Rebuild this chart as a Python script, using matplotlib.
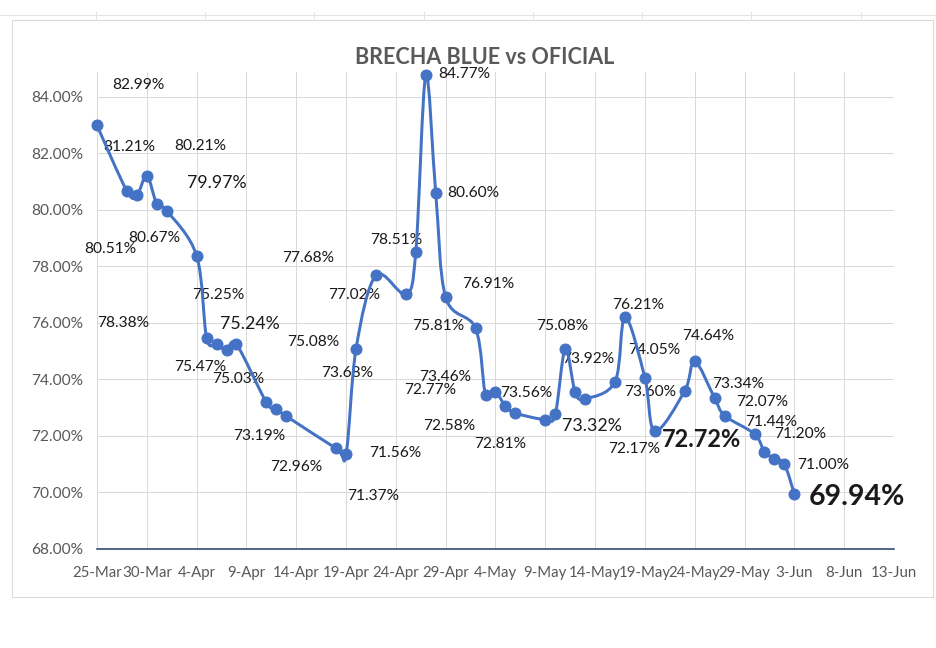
import matplotlib
matplotlib.use("Agg")
import matplotlib.pyplot as plt
import matplotlib.dates as mdates
from matplotlib.path import Path
from matplotlib.patches import PathPatch, Rectangle
from matplotlib.lines import Line2D
import numpy as np
import pandas as pd

plt.rcParams['font.family'] = ['Lato', 'DejaVu Sans']

# ---------------- data ----------------
dates = ["2022-03-25", "2022-03-28", "2022-03-29", "2022-03-30", "2022-03-31", "2022-04-01",
         "2022-04-04", "2022-04-05", "2022-04-06", "2022-04-07", "2022-04-08",
         "2022-04-11", "2022-04-12", "2022-04-13", "2022-04-18", "2022-04-19", "2022-04-20",
         "2022-04-22", "2022-04-25", "2022-04-26", "2022-04-27", "2022-04-28", "2022-04-29",
         "2022-05-02", "2022-05-03", "2022-05-04", "2022-05-05", "2022-05-06",
         "2022-05-09", "2022-05-10", "2022-05-11", "2022-05-12", "2022-05-13",
         "2022-05-16", "2022-05-17", "2022-05-19", "2022-05-20",
         "2022-05-23", "2022-05-24", "2022-05-26", "2022-05-27",
         "2022-05-30", "2022-05-31", "2022-06-01", "2022-06-02", "2022-06-03"]
values = [82.99, 80.67, 80.51, 81.21, 80.21, 79.97,
          78.38, 75.47, 75.25, 75.03, 75.24,
          73.19, 72.96, 72.70, 71.56, 71.37, 75.08,
          77.68, 77.02, 78.51, 84.77, 80.60, 76.91,
          75.81, 73.46, 73.56, 73.05, 72.81,
          72.58, 72.77, 75.08, 73.55, 73.32,
          73.92, 76.21, 74.05, 72.17,
          73.60, 74.64, 73.34, 72.72,
          72.07, 71.44, 71.20, 71.00, 69.94]
extra_label_text = "73.68%"
title = "BRECHA BLUE vs OFICIAL"
y_ticks = [68, 70, 72, 74, 76, 78, 80, 82, 84]

# ---------------- label layout (pixel offsets, style) ----------------
# (dx, dy) in pixels (dy up positive), style key; None = no label
label_layout = [(41, 40, 'n'), (27, -47, 'n'), (-27, -54, 'n'), (-18, 29, 'n'), (43, 58, 'n'), (50, 28, 'b'),
                (-73, -67, 'n'), (-6, -29, 'n'), (2, 49, 'n'), (12, -29, 'n'), (13, 20, 'b'),
                (-7, -34, 'n'), (20, -58, 'n'), None, (59, -5, 'n'), (27, -42, 'n'), (-43, 7, 'n'),
                (-68, 17, 'n'), (-52, -1, 'n'), (-20, 12, 'n'), (38, 1, 'n'), (38, 0, 'n'), (43, 13, 'n'),
                (-37, 2, 'n'), (-40, 18, 'n'), (31, -1, 'n'), None, (-15, -31, 'n'),
                (-96, -6, 'n'), (-125, 24, 'n'), (-3, 23, 'n'), None, (7, -27, 'b'),
                (-27, 23, 'n'), (13, 12, 'n'), (9, 28, 'n'), (-21, -18, 'n'),
                (-35, -1, 'n'), (13, 25, 'n'), (23, 14, 'n'), (-23, -24, 'B'),
                (8, 32, 'n'), (7, 30, 'n'), (26, 25, 'n'), (39, -1, 'n'), (63, -3, 'X')]
extra_label_anchor = 16
extra_label_offset = (-9, -24)
styles = {'n': dict(fontsize=15.5, fontweight='normal'),
          'b': dict(fontsize=17.7, fontweight='normal'),
          'B': dict(fontsize=23.5, fontweight='bold'),
          'X': dict(fontsize=28.5, fontweight='bold')}

W, H = 936, 648
fig = plt.figure(figsize=(W / 72, H / 72), dpi=72)
fig.patch.set_facecolor('white')

# spreadsheet cell lines peeking out around the chart object
fig.add_artist(Line2D([0, 1], [1 - 15 / H, 1 - 15 / H], transform=fig.transFigure, color='#E3E3E3', lw=1))
for xc in [96, 205, 314, 424, 533, 642, 751, 861]:
    fig.add_artist(Line2D([xc / W, xc / W], [1 - 12 / H, 1 - 20 / H], transform=fig.transFigure,
                          color='#E3E3E3', lw=1))
# chart area border
fig.add_artist(Rectangle((12 / W, 1 - 597 / H), (933 - 12) / W, (597 - 20) / H,
                         transform=fig.transFigure, fill=False, edgecolor='#D9D9D9', lw=1))

ax = fig.add_axes([97 / W, 1 - 549 / H, (894 - 97) / W, (549 - 72) / H])
ax.set_facecolor('white')

x = mdates.date2num(pd.to_datetime(dates))
y = np.array(values)

x0 = mdates.date2num(pd.Timestamp("2022-03-25"))
x1 = mdates.date2num(pd.Timestamp("2022-06-13"))
ax.set_xlim(x0, x1)
ax.set_ylim(68, 84.88)

xt = np.arange(x0, x1 + 0.5, 5)
ax.set_xticks(xt)
ax.xaxis.set_major_formatter(mdates.DateFormatter('%-d-%b'))
ax.set_yticks(y_ticks)
ax.set_yticklabels([f"{v:.2f}%" for v in y_ticks])
ax.tick_params(axis='both', length=0, colors='#595959')
ax.tick_params(axis='x', pad=17, labelsize=15)
ax.tick_params(axis='y', pad=14, labelsize=15.5)
ax.grid(True, color='#D9D9D9', lw=1)
ax.set_axisbelow(True)
for s in ['left', 'right', 'top']:
    ax.spines[s].set_visible(False)
ax.spines['bottom'].set_color('#203864')
ax.spines['bottom'].set_linewidth(1.5)
ax.spines['bottom'].set_zorder(3)

# smoothed line (Excel style cubic Bezier through the points)
P = np.column_stack([x, y])
n = len(P)
verts = [tuple(P[0])]
codes = [Path.MOVETO]
for i in range(n - 1):
    p0 = P[i - 1] if i > 0 else P[i]
    p1 = P[i]
    p2 = P[i + 1]
    p3 = P[i + 2] if i + 2 < n else P[i + 1]
    c1 = p1 + (p2 - p0) / 6.0
    c2 = p2 - (p3 - p1) / 6.0
    verts += [tuple(c1), tuple(c2), tuple(p2)]
    codes += [Path.CURVE4] * 3
ax.add_patch(PathPatch(Path(verts, codes), fill=False, edgecolor='#4472C4', lw=3,
                       capstyle='round', joinstyle='round', zorder=4))
ax.plot(x, y, 'o', color='#4472C4', ms=11, zorder=5, clip_on=False)

# data labels
for xi, yi, lay in zip(x, y, label_layout):
    if lay is None:
        continue
    dx, dy, st = lay
    ax.annotate(f"{yi:.2f}%", (xi, yi), xytext=(dx, dy), textcoords='offset points',
                ha='center', va='center', color='#1A1A1A', annotation_clip=False, **styles[st])
ax.annotate(extra_label_text, (x[extra_label_anchor], y[extra_label_anchor]),
            xytext=extra_label_offset, textcoords='offset points', ha='center', va='center',
            color='#1A1A1A', annotation_clip=False, **styles['n'])

fig.text(485 / W, 1 - 58 / H, title, ha='center', va='center', fontsize=21.5,
         fontweight='bold', color='#595959')

fig.savefig('out.png', dpi=72, facecolor='white')
